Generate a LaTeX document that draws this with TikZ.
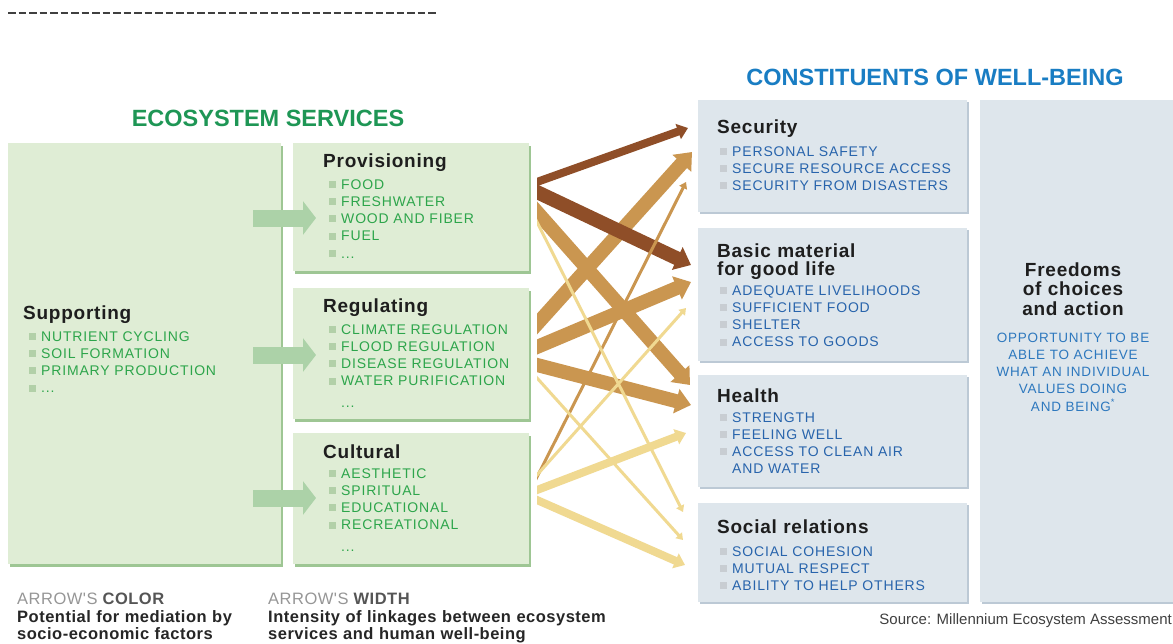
\documentclass[tikz,border=0pt]{standalone}
\usepackage{fontspec}
\setmainfont{Liberation Sans}
\newfontfamily\headfont[LetterSpace=4]{Liberation Sans}
\newfontfamily\listfont[LetterSpace=6]{Liberation Sans}
\newfontfamily\keyfont[LetterSpace=3]{Liberation Sans}
\usepackage{tikz}
\usetikzlibrary{arrows.meta, shadows}

\definecolor{esgreen}{RGB}{30,150,85}
\definecolor{boxgreen}{RGB}{223,237,213}
\definecolor{edgegreen}{RGB}{158,198,148}
\definecolor{itemgreen}{RGB}{45,165,75}
\definecolor{dotgreen}{RGB}{178,208,168}
\definecolor{feedgreen}{RGB}{172,210,168}
\definecolor{wbblue}{RGB}{25,125,195}
\definecolor{boxblue}{RGB}{222,230,236}
\definecolor{edgeblue}{RGB}{188,201,213}
\definecolor{itemblue}{RGB}{40,100,172}
\definecolor{freeblue}{RGB}{45,120,190}
\definecolor{dotgray}{RGB}{200,205,210}
\definecolor{headgray}{RGB}{30,30,30}
\definecolor{darkarrow}{RGB}{143,78,40}
\definecolor{tanarrow}{RGB}{202,150,80}
\definecolor{palearrow}{RGB}{240,217,145}
\definecolor{keygray}{RGB}{150,150,150}
\definecolor{keydark}{RGB}{85,85,85}

\newcommand{\gsq}{\textcolor{dotgreen}{\rule[1.3pt]{7pt}{7pt}}\hspace{5pt}}
\newcommand{\bsq}{\textcolor{dotgray}{\rule[1.3pt]{7pt}{7pt}}\hspace{5pt}}
\newcommand{\nosq}{\hspace*{12pt}}

\tikzset{
  svcbox/.style={anchor=north west, inner sep=0pt, fill=boxgreen,
    drop shadow={shadow xshift=1.5pt, shadow yshift=-2.5pt, fill=edgegreen, opacity=1}},
  wbbox/.style={anchor=north west, inner sep=0pt, fill=boxblue,
    drop shadow={shadow xshift=1.5pt, shadow yshift=-2pt, fill=edgeblue, opacity=1}},
  bigtitle/.style={inner sep=0pt, font=\bfseries\fontsize{23.5}{24}\selectfont},
  boxhead/.style={anchor=base west, inner sep=0pt, text=headgray, text width=240pt, align=left,
    font=\headfont\bfseries\fontsize{19}{18}\selectfont},
  svclist/.style={anchor=base west, inner sep=0pt, text=itemgreen, text width=230pt, align=left,
    font=\listfont\fontsize{14}{17.3}\selectfont},
  wblist/.style={svclist, text=itemblue},
  keytext/.style={anchor=base west, inner sep=0pt, text width=400pt, align=left, text=black!85,
    font=\keyfont\bfseries\fontsize{16.5}{17.5}\selectfont},
  dashline/.style={line width=2.2pt, dash pattern=on 7.5pt off 3pt, black!75},
  feed/.style={line width=17pt, feedgreen, -{Triangle[length=13pt, width=33pt]}},
  link/.style={line width=#1, -{Triangle[length=4pt 0.8, width=4pt 1.45]}},
}

\begin{document}
\begin{tikzpicture}[x=1pt, y=-1pt]
\useasboundingbox[fill=white] (0,0) rectangle (1173,643);

\draw[dashline] (8,13) -- (438,13);

\node[bigtitle, text=esgreen] (estitle) at (268,118) {ECOSYSTEM SERVICES};
\node[bigtitle, text=wbblue] (wbtitle) at (935,77) {CONSTITUENTS OF WELL-BEING};

% ecosystem services
\node[svcbox, minimum width=273pt, minimum height=421pt] (sup) at (8,143) {};
\node[svcbox, minimum width=236pt, minimum height=128pt] (prov) at (293,143) {};
\node[svcbox, minimum width=236pt, minimum height=131pt] (reg) at (293,288) {};
\node[svcbox, minimum width=236pt, minimum height=131pt] (cult) at (293,433) {};

\coordinate (sup-p) at (253,218);
\coordinate (sup-r) at (253,355);
\coordinate (sup-c) at (253,498);
\coordinate (prov-in) at (316,218);
\coordinate (reg-in) at (316,355);
\coordinate (cult-in) at (316,498);
\draw[feed] (sup-p) -- (prov-in);
\draw[feed] (sup-r) -- (reg-in);
\draw[feed] (sup-c) -- (cult-in);

\node[boxhead] (suphead) at (23,319) {Supporting};
\node[svclist] (supitems) at (29,341) {\gsq NUTRIENT CYCLING\\ \gsq SOIL FORMATION\\
  \gsq PRIMARY PRODUCTION\\ \gsq ...};

\node[boxhead] (provhead) at (323,167) {Provisioning};
\node[svclist] (provitems) at (329,189) {\gsq FOOD\\ \gsq FRESHWATER\\ \gsq WOOD AND FIBER\\
  \gsq FUEL\\ \gsq ...};

\node[boxhead] (reghead) at (323,312) {Regulating};
\node[svclist] (regitems) at (329,334) {\gsq CLIMATE REGULATION\\ \gsq FLOOD REGULATION\\
  \gsq DISEASE REGULATION\\ \gsq WATER PURIFICATION\\[4pt] \nosq ...};

\node[boxhead] (culthead) at (323,458) {Cultural};
\node[svclist] (cultitems) at (329,478) {\gsq AESTHETIC\\ \gsq SPIRITUAL\\ \gsq EDUCATIONAL\\
  \gsq RECREATIONAL\\[4pt] \nosq ...};

% constituents of well-being
\node[wbbox, minimum width=269pt, minimum height=112pt] (sec) at (698,100) {};
\node[wbbox, minimum width=269pt, minimum height=133pt] (basic) at (698,228) {};
\node[wbbox, minimum width=269pt, minimum height=112pt] (health) at (698,375) {};
\node[wbbox, minimum width=269pt, minimum height=99pt] (social) at (698,503) {};
\node[wbbox, minimum width=200pt, minimum height=502pt] (free) at (980,100) {};

\node[boxhead] (sechead) at (717,133) {Security};
\node[wblist] (secitems) at (720,156) {\bsq PERSONAL SAFETY\\ \bsq SECURE RESOURCE ACCESS\\
  \bsq SECURITY FROM DISASTERS};

\node[boxhead] (basichead) at (717,257) {Basic material\\for good life};
\node[wblist] (basicitems) at (720,295) {\bsq ADEQUATE LIVELIHOODS\\ \bsq SUFFICIENT FOOD\\
  \bsq SHELTER\\ \bsq ACCESS TO GOODS};

\node[boxhead] (healthhead) at (717,402) {Health};
\node[wblist] (healthitems) at (720,422) {\bsq STRENGTH\\ \bsq FEELING WELL\\
  \bsq ACCESS TO CLEAN AIR\\ \nosq AND WATER};

\node[boxhead] (socialhead) at (717,533) {Social relations};
\node[wblist] (socialitems) at (720,556) {\bsq SOCIAL COHESION\\ \bsq MUTUAL RESPECT\\
  \bsq ABILITY TO HELP OTHERS};

\node[boxhead, anchor=base, text width=190pt, align=center,
  font=\headfont\bfseries\fontsize{19}{19.5}\selectfont] (freehead) at (1073,276)
  {Freedoms\\of choices\\and action};
\node[wblist, anchor=base, text width=190pt, align=center, text=freeblue,
  font=\listfont\fontsize{13.5}{17.3}\selectfont] (freetext) at (1073,342)
  {OPPORTUNITY TO BE\\ABLE TO ACHIEVE\\WHAT AN INDIVIDUAL\\VALUES DOING\\AND BEING\textsuperscript{*}};

% linkages
\begin{scope}
\clip (537,90) rectangle (700,600);
\coordinate (p1) at (531,184.1);
\coordinate (p2) at (531,189.2);
\coordinate (p3) at (531,205.2);
\coordinate (p4) at (531,210.1);
\coordinate (r1) at (531,330.7);
\coordinate (r2) at (531,349.5);
\coordinate (r3) at (531,363.4);
\coordinate (r4) at (531,371.3);
\coordinate (c1) at (531,488.9);
\coordinate (c2) at (531,481.7);
\coordinate (c3) at (531,492.3);
\coordinate (c4) at (531,497.4);
\coordinate (s1) at (688,128);
\coordinate (s2) at (692,152);
\coordinate (s3) at (686,182);
\coordinate (b1) at (691,265);
\coordinate (b2) at (691,282);
\coordinate (b3) at (686,308);
\coordinate (h1) at (690,385);
\coordinate (h2) at (691,405);
\coordinate (h3) at (686,433);
\coordinate (o1) at (683,512);
\coordinate (o2) at (683,540);
\coordinate (o3) at (685,565);
\draw[link=14, tanarrow] (p3) -- (h1);
\draw[link=14, tanarrow] (r1) -- (s2);
\draw[link=14, tanarrow] (r2) -- (b2);
\draw[link=14, tanarrow] (r3) -- (h2);
\draw[link=8, darkarrow] (p1) -- (s1);
\draw[link=14, darkarrow] (p2) -- (b1);
\draw[link=3, tanarrow] (c1) -- (s3);
\draw[link=3, palearrow] (p4) -- (o1);
\draw[link=3, palearrow] (r4) -- (o2);
\draw[link=3, palearrow] (c2) -- (b3);
\draw[link=8, palearrow] (c3) -- (h3);
\draw[link=8, palearrow] (c4) -- (o3);
\end{scope}

% key and source
\node[anchor=base west, inner sep=0pt, font=\keyfont\fontsize{16.5}{17.5}\selectfont] (colkey)
  at (17,604) {\textcolor{keygray}{ARROW'S} \textcolor{keydark}{\bfseries COLOR}};
\node[keytext] (coltext) at (17,622) {Potential for mediation by\\socio-economic factors};
\node[anchor=base west, inner sep=0pt, font=\keyfont\fontsize{16.5}{17.5}\selectfont] (widkey)
  at (268,604) {\textcolor{keygray}{ARROW'S} \textcolor{keydark}{\bfseries WIDTH}};
\node[keytext] (widtext) at (268,622) {Intensity of linkages between ecosystem\\services and human well-being};

\node[anchor=base east, inner sep=0pt, text=black!75, font=\fontsize{15}{15}\selectfont] (source)
  at (1172,624) {Source: Millennium Ecosystem Assessment};
\end{tikzpicture}
\end{document}
